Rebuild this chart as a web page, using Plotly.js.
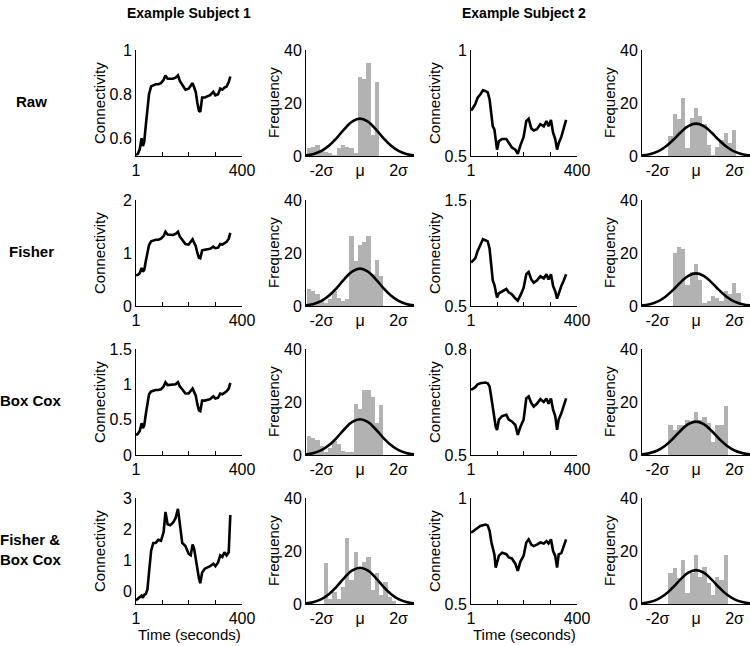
<!DOCTYPE html>
<html>
<head>
<meta charset="utf-8">
<script src="https://cdn.plot.ly/plotly-3.0.1.min.js"></script>
<style>
  html, body { margin: 0; padding: 0; background: #ffffff; }
  #chart { width: 750px; height: 646px; }
</style>
</head>
<body>
<div id="chart"></div>
<script>
// ---------------- DATA ----------------
const colTitles = ['Example Subject 1', 'Example Subject 2'];
const rowLabels = ['Raw', 'Fisher', 'Box Cox', 'Fisher &<br>Box Cox'];

const timeTicks = [1, 100, 200, 300, 400];
const timeTickText = ['1', '', '', '', '400'];
const sigmaTicks = [-2, 0, 2];
const sigmaTickText = ['-2σ', 'μ', '2σ'];
const freqTicks = [0, 20, 40];

// Subject 1 time series (seconds)
const timeS1 = [1,8,15,22,27,32,38,44,50,58,66,75,85,95,105,112,120,130,140,150,159,166,175,187,199,207,214,220,226,232,238,243,250,260,270,280,292,300,310,318,326,334,342,350,356];
const rawS1 = [0.525,0.53,0.55,0.60,0.565,0.585,0.66,0.73,0.80,0.835,0.84,0.845,0.845,0.85,0.865,0.885,0.87,0.87,0.87,0.875,0.885,0.86,0.845,0.82,0.825,0.84,0.85,0.83,0.81,0.76,0.725,0.72,0.785,0.785,0.79,0.795,0.81,0.795,0.80,0.825,0.82,0.83,0.835,0.855,0.88];
const fisherS1 = [0.58,0.59,0.62,0.72,0.65,0.68,0.85,1.0,1.15,1.22,1.24,1.25,1.25,1.27,1.32,1.40,1.35,1.35,1.34,1.36,1.40,1.31,1.25,1.17,1.16,1.22,1.26,1.19,1.13,1.0,0.91,0.90,1.05,1.06,1.07,1.08,1.12,1.09,1.10,1.17,1.16,1.19,1.21,1.27,1.38];
const boxcoxS1 = [0.28,0.30,0.34,0.45,0.38,0.42,0.58,0.72,0.86,0.90,0.91,0.92,0.92,0.93,0.97,1.03,0.99,0.99,0.99,1.0,1.03,0.97,0.93,0.87,0.87,0.91,0.94,0.89,0.84,0.72,0.63,0.62,0.77,0.77,0.78,0.79,0.83,0.80,0.81,0.87,0.86,0.88,0.90,0.94,1.02];
const fisherBoxcoxS1 = [-0.30,-0.25,-0.20,-0.15,-0.22,-0.12,-0.10,0.05,0.60,1.30,1.55,1.55,1.65,1.62,1.90,2.55,2.15,2.12,2.20,2.35,2.65,2.20,1.55,1.45,1.20,1.15,1.50,1.35,1.00,0.80,0.40,0.25,0.60,0.72,0.75,0.80,0.88,0.80,0.92,1.15,1.10,1.25,1.15,1.25,2.45];

// Subject 2 time series (seconds)
const timeS2 = [1,5,17,26,36,46,55,64,71,78,83,89,94,99,106,118,134,143,155,168,177,187,199,209,218,228,237,249,262,275,285,293,302,310,318,325,331,341,350,359];
const rawS2 = [0.715,0.72,0.745,0.775,0.79,0.81,0.807,0.80,0.767,0.70,0.64,0.626,0.57,0.53,0.57,0.58,0.58,0.56,0.54,0.53,0.51,0.55,0.59,0.665,0.676,0.63,0.62,0.626,0.65,0.64,0.665,0.64,0.67,0.61,0.58,0.53,0.56,0.59,0.625,0.67];
const fisherS2 = [0.91,0.92,0.95,1.02,1.08,1.13,1.12,1.11,1.04,0.86,0.74,0.70,0.63,0.58,0.62,0.64,0.66,0.63,0.61,0.57,0.55,0.60,0.67,0.80,0.82,0.75,0.72,0.74,0.78,0.76,0.80,0.75,0.80,0.69,0.64,0.57,0.62,0.69,0.74,0.80];
const boxcoxS2 = [0.685,0.686,0.692,0.70,0.703,0.705,0.705,0.703,0.694,0.66,0.635,0.61,0.58,0.571,0.60,0.61,0.614,0.60,0.595,0.585,0.557,0.58,0.60,0.66,0.666,0.647,0.637,0.645,0.658,0.65,0.66,0.645,0.66,0.628,0.61,0.571,0.60,0.618,0.637,0.66];
const fisherBoxcoxS2 = [0.836,0.84,0.85,0.862,0.868,0.872,0.875,0.87,0.845,0.79,0.758,0.734,0.672,0.70,0.727,0.742,0.735,0.72,0.715,0.69,0.656,0.70,0.727,0.79,0.805,0.78,0.773,0.78,0.79,0.785,0.797,0.785,0.805,0.75,0.727,0.672,0.734,0.74,0.773,0.805];

// y tick values of the time-series panels
const tsTicksS1 = [[0.6,0.8,1],[0,1,2],[0,0.5,1,1.5],[0,1,2,3]];
const tsTicksS2 = [[0.5,1],[0.5,1.5],[0.5,0.8],[0.5,1]];
const tsRangeS1 = [[0.52,1],[0,2],[0,1.5],[-0.42,3]];
const tsRangeS2 = [[0.5,1],[0.5,1.5],[0.5,0.8],[0.5,1]];

// Histogram bins (in units of sigma from the mean)
const binCenters = [-2.64,-2.42,-2.20,-1.98,-1.76,-1.54,-1.32,-1.10,-0.88,-0.66,-0.44,-0.22,0,0.22,0.44,0.66,0.88,1.10,1.32,1.54,1.76,1.98,2.20,2.42,2.64];
const histRawS1 = [3,3.5,4,2,1.5,1,0.5,3,4,3.5,3,1,30,29,35,8,28,0,0,0,0,0,0,0,0];
const histFisherS1 = [6.5,5.6,4.5,2,1,2.5,5.6,3,2,2.5,26.5,17,23,24,26.5,12,17.5,11.5,0,0,0,0,0,0,0];
const histBoxcoxS1 = [7,6.5,5.6,3.5,1,2.5,5.4,4,1.5,1,1,19.4,17.5,24.6,24.4,21.9,12,18.8,0,0,0,0,0,0,0];
const histFisherBoxcoxS1 = [0,0,0,0,15.6,2,4.7,2,6.5,24.8,9,19.8,13.5,16,17.7,5.3,11.6,3.4,8.4,2.8,1,0,0,0,0];
const histRawS2 = [0,0,0,0,0,0,7.5,16,14,22,3,14.5,18,15,12,4,0.5,3.5,6,8.5,5,10,0,0,0];
const histFisherS2 = [0,0,0,0,0,0,0,20,22.3,21.4,8,13,16,10,1,2,3.8,3,2,5.7,4.4,8.8,5,0,0];
const histBoxcoxS2 = [0,0,0,0,0,0,11.4,9.5,11.4,11.4,13.2,12,16.4,13.2,14.5,12,5,11.4,11.4,18.5,0,0,0,0,0];
const histFisherBoxcoxS2 = [0,0,0,0,0,0,11.6,13.5,9.7,16.6,4,11.6,18.5,10.3,14.1,8,3.4,10.3,9,18.5,0,0,0,0,0];

// Fitted normal curves
const curveX = [-2.8,-2.4,-2.0,-1.6,-1.2,-0.8,-0.4,0,0.4,0.8,1.2,1.6,2.0,2.4,2.8];
const curveRawS1 = [0.28,0.79,1.90,3.92,6.87,10.24,13.01,14.1,13.01,10.24,6.87,3.92,1.90,0.79,0.28];
const curveFisherS1 = [0.28,0.79,1.90,3.92,6.87,10.24,13.01,14.1,13.01,10.24,6.87,3.92,1.90,0.79,0.28];
const curveBoxcoxS1 = [0.27,0.76,1.82,3.75,6.57,9.80,12.46,13.5,12.46,9.80,6.57,3.75,1.82,0.76,0.27];
const curveFisherBoxcoxS1 = [0.27,0.77,1.85,3.81,6.67,9.95,12.65,13.7,12.65,9.95,6.67,3.81,1.85,0.77,0.27];
const curveRawS2 = [0.24,0.68,1.65,3.39,5.94,8.86,11.26,12.2,11.26,8.86,5.94,3.39,1.65,0.68,0.24];
const curveFisherS2 = [0.25,0.69,1.66,3.42,5.99,8.93,11.35,12.3,11.35,8.93,5.99,3.42,1.66,0.69,0.25];
const curveBoxcoxS2 = [0.25,0.71,1.70,3.50,6.14,9.15,11.63,12.6,11.63,9.15,6.14,3.50,1.70,0.71,0.25];
const curveFisherBoxcoxS2 = [0.26,0.72,1.73,3.56,6.23,9.29,11.81,12.8,11.81,9.29,6.23,3.56,1.73,0.72,0.26];

// ---------------- BUILD ----------------
const W = 750, H = 646;
const FONT = 'Liberation Sans, Arial, Helvetica, sans-serif';
const px = p => p / W;
const py = p => 1 - p / H;

const colPx = [[136,242],[306,414],[471,577],[642,750]];
const rowPx = [[50,156],[200,306],[349,455],[498,604]];

const seriesS1 = [rawS1, fisherS1, boxcoxS1, fisherBoxcoxS1];
const seriesS2 = [rawS2, fisherS2, boxcoxS2, fisherBoxcoxS2];
const histS1 = [histRawS1, histFisherS1, histBoxcoxS1, histFisherBoxcoxS1];
const histS2 = [histRawS2, histFisherS2, histBoxcoxS2, histFisherBoxcoxS2];
const curveS1 = [curveRawS1, curveFisherS1, curveBoxcoxS1, curveFisherBoxcoxS1];
const curveS2 = [curveRawS2, curveFisherS2, curveBoxcoxS2, curveFisherBoxcoxS2];

const traces = [];
const layout = {
  width: W, height: H,
  margin: {l: 0, r: 0, t: 0, b: 0},
  paper_bgcolor: '#ffffff', plot_bgcolor: '#ffffff',
  showlegend: false,
  font: {family: FONT, color: '#000000', size: 16},
  annotations: []
};

function baseAxis() {
  return {
    showline: true, linecolor: '#000000', linewidth: 1,
    showgrid: false, zeroline: false, mirror: false,
    tickfont: {family: FONT, size: 16, color: '#000000'},
    tickcolor: '#000000', fixedrange: true
  };
}

for (let r = 0; r < 4; r++) {
  for (let c = 0; c < 4; c++) {
    const n = r * 4 + c + 1;
    const xa = 'x' + (n === 1 ? '' : n);
    const ya = 'y' + (n === 1 ? '' : n);
    const xKey = 'xaxis' + (n === 1 ? '' : n);
    const yKey = 'yaxis' + (n === 1 ? '' : n);
    const xAx = baseAxis();
    const yAx = baseAxis();
    xAx.domain = [px(colPx[c][0]), px(colPx[c][1])];
    yAx.domain = [py(rowPx[r][1]), py(rowPx[r][0])];
    xAx.anchor = ya; yAx.anchor = xa;
    const isTime = (c === 0 || c === 2);
    const subj = (c < 2) ? 0 : 1;
    if (isTime) {
      traces.push({
        type: 'scatter', mode: 'lines',
        x: subj === 0 ? timeS1 : timeS2,
        y: subj === 0 ? seriesS1[r] : seriesS2[r],
        xaxis: xa, yaxis: ya,
        line: {color: '#000000', width: 2.6},
        hoverinfo: 'skip'
      });
      xAx.range = [1, 400];
      xAx.tickvals = timeTicks; xAx.ticktext = timeTickText;
      xAx.ticks = 'inside'; xAx.ticklen = 4; xAx.tickwidth = 1;
      yAx.range = subj === 0 ? tsRangeS1[r] : tsRangeS2[r];
      yAx.tickvals = subj === 0 ? tsTicksS1[r] : tsTicksS2[r];
      yAx.ticks = '';
      layout.annotations.push({
        xref: 'paper', yref: 'paper',
        x: px(colPx[c][0] - 37), y: py((rowPx[r][0] + rowPx[r][1]) / 2),
        text: 'Connectivity', showarrow: false, textangle: -90,
        xanchor: 'center', yanchor: 'middle',
        font: {family: FONT, size: 15, color: '#000000'}
      });
    } else {
      traces.push({
        type: 'bar', x: binCenters,
        y: subj === 0 ? histS1[r] : histS2[r],
        xaxis: xa, yaxis: ya,
        marker: {color: 'rgb(178,178,178)', line: {width: 0}},
        hoverinfo: 'skip'
      });
      traces.push({
        type: 'scatter', mode: 'lines', x: curveX,
        y: subj === 0 ? curveS1[r] : curveS2[r],
        xaxis: xa, yaxis: ya,
        line: {color: '#000000', width: 2.6, shape: 'spline', smoothing: 1.3},
        hoverinfo: 'skip'
      });
      xAx.range = [-2.8, 2.8];
      xAx.tickvals = sigmaTicks; xAx.ticktext = sigmaTickText;
      xAx.ticks = '';
      yAx.range = [0, 40];
      yAx.tickvals = freqTicks;
      yAx.ticks = '';
      layout.annotations.push({
        xref: 'paper', yref: 'paper',
        x: px(colPx[c][0] - 33), y: py((rowPx[r][0] + rowPx[r][1]) / 2),
        text: 'Frequency', showarrow: false, textangle: -90,
        xanchor: 'center', yanchor: 'middle',
        font: {family: FONT, size: 15, color: '#000000'}
      });
    }
    layout[xKey] = xAx;
    layout[yKey] = yAx;
  }
}
layout.bargap = 0;

// Row labels
for (let r = 0; r < 4; r++) {
  layout.annotations.push({
    xref: 'paper', yref: 'paper',
    x: px(31), y: py((rowPx[r][0] + rowPx[r][1]) / 2 - 2),
    text: '<b>' + rowLabels[r] + '</b>', showarrow: false,
    xanchor: 'center', yanchor: 'middle', align: 'left',
    font: {family: FONT, size: 15, color: '#000000'}
  });
}
// Column titles
const titleCenters = [189, 524];
for (let s = 0; s < 2; s++) {
  layout.annotations.push({
    xref: 'paper', yref: 'paper',
    x: px(titleCenters[s]), y: py(13),
    text: '<b>' + colTitles[s] + '</b>', showarrow: false,
    xanchor: 'center', yanchor: 'middle',
    font: {family: FONT, size: 14, color: '#000000'}
  });
  // x-axis titles under bottom time-series panels
  layout.annotations.push({
    xref: 'paper', yref: 'paper',
    x: px((colPx[s * 2][0] + colPx[s * 2][1]) / 2), y: py(634),
    text: 'Time (seconds)', showarrow: false,
    xanchor: 'center', yanchor: 'middle',
    font: {family: FONT, size: 15, color: '#000000'}
  });
}

Plotly.newPlot('chart', traces, layout, {staticPlot: true, displayModeBar: false});
</script>
</body>
</html>
